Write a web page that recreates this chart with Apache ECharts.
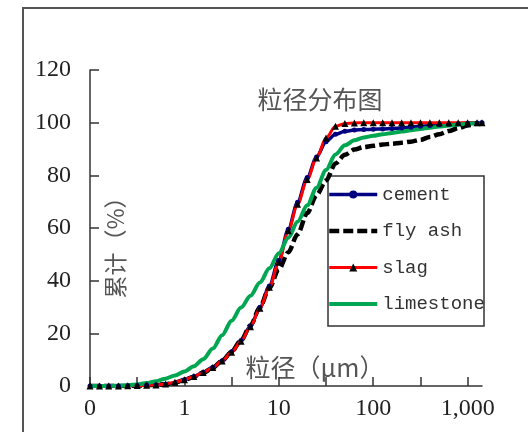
<!DOCTYPE html>
<html><head><meta charset="utf-8">
<script src="https://cdn.jsdelivr.net/npm/echarts@6/dist/echarts.min.js"></script>
<style>html,body{margin:0;padding:0;background:#fff}#c{width:528px;height:432px}</style>
</head><body><div id="c"></div>
<script>
// particle size (µm)
const sizes = [0.1,0.126,0.158,0.2,0.251,0.316,0.398,0.501,0.631,0.794,1,1.26,1.58,2,2.51,3.16,3.98,5.01,6.31,7.94,10,12.6,15.8,20,25.1,31.6,39.8,50.1,63.1,79.4,100,126,158,200,251,316,398,501,631,794,1000,1259,1420];
// cumulative (%)
const cement = [0,0,0,0,0.05,0.2,0.35,0.4,0.7,1.1,2.4,3.6,5.2,7.1,9.6,13.0,17.3,22.8,29.8,38.0,47.8,59.5,69.8,79.2,87.0,92.8,95.6,96.7,97.2,97.4,97.5,97.6,97.8,98.0,98.3,98.6,98.9,99.2,99.4,99.6,99.8,99.9,100];
const flyAsh = [0,0,0,0,0.05,0.15,0.3,0.4,0.7,1.3,2.3,3.5,5.0,6.9,9.6,13.0,17.4,23.0,30.0,37.2,44.3,50.8,57.6,65.7,72.5,78.0,84.5,87.8,89.8,90.7,91.2,91.7,92.0,92.4,92.8,93.5,94.6,95.6,96.8,97.9,98.9,99.6,100];
const slag = [0,0,0,0,0.05,0.15,0.3,0.4,0.8,1.4,2.4,3.6,5.1,7.0,9.5,12.8,17.0,22.5,29.5,37.5,47.0,59.0,69.0,78.4,86.6,94.2,98.6,99.7,99.9,100,100,100,100,100,100,100,100,100,100,100,100,100,100];
const limestone = [0,0,0,0.1,0.3,0.6,1.1,1.8,2.8,4.0,5.5,7.5,10.2,14.2,19.3,24.8,29.8,34.3,39.3,44.7,50.4,56.3,62.4,68.6,75.3,82.0,87.9,91.4,93.3,94.4,95.0,95.6,96.1,96.6,97.1,97.6,98.1,98.5,98.9,99.3,99.6,99.8,100];
const seriesNames = ['cement','fly ash','slag','limestone'];
const xTickLabels = ['0','1','10','100','1,000'];   // decades 0.1 .. 1000
const xTickDecades = [-1,0,1,2,3];
const xMinorTicks = [-1,-0.5,0,0.5,1,1.5,2,2.5,3];
const titleText = '粒径分布图';
const xName = '粒径（μm）';
const yName = '累计（%）';

const toPts = arr => sizes.map((s,i)=>[Math.log10(s), arr[i]]);
const chart = echarts.init(document.getElementById('c'), null, {renderer:'canvas'});
const serif = '"Liberation Serif", "DejaVu Serif", serif';
const cjk = '"Noto Sans CJK SC", sans-serif';
chart.setOption({
  animation:false,
  backgroundColor:'#fff',
  title:{text:titleText,left:320,top:87,textAlign:'center',padding:0,
    textStyle:{fontFamily:cjk,fontSize:25,fontWeight:'normal',color:'#555'}},
  grid:{left:90,right:46,top:70,bottom:46,containLabel:false},
  xAxis:{type:'value',min:-1,max:3.152,
    axisLine:{onZero:false,lineStyle:{color:'#333',width:1.5}},
    axisTick:{inside:true,length:9,customValues:xMinorTicks,lineStyle:{color:'#333',width:1.5}},
    axisLabel:{customValues:xTickDecades,margin:11,fontFamily:serif,fontSize:24,color:'#222',
      formatter:v=>{const k=Math.round(v);return Math.abs(v-k)<1e-6?(xTickLabels[k+1]||''):'';}},
    splitLine:{show:false}},
  yAxis:{type:'value',min:0,max:120,interval:20,
    axisLine:{show:true,onZero:false,lineStyle:{color:'#333',width:1.5}},
    axisTick:{show:true,inside:true,length:9,lineStyle:{color:'#333',width:1.5}},
    axisLabel:{margin:19,fontFamily:serif,fontSize:24,color:'#222'},
    splitLine:{show:false}},
  legend:{orient:'vertical',left:327,top:185,itemWidth:48,itemHeight:10,itemGap:17.5,padding:0,
    data:[
      {name:seriesNames[0]},
      {name:seriesNames[1],itemStyle:{opacity:0}},
      {name:seriesNames[2]},
      {name:seriesNames[3],itemStyle:{opacity:0}}
    ],
    lineStyle:{width:'inherit'},
    textStyle:{fontFamily:'"Liberation Mono", monospace',fontSize:19,color:'#333'}},
  series:[
    {name:seriesNames[0],type:'line',data:toPts(cement),symbol:'circle',symbolSize:5,
      smooth:0.3,smoothMonotone:'x',
      lineStyle:{color:'#000080',width:3.5},itemStyle:{color:'#000080'}},
    {name:seriesNames[1],type:'line',data:toPts(flyAsh),symbol:'none',
      smooth:0.3,smoothMonotone:'x',
      lineStyle:{color:'#000',width:4.5,type:[10,4]},itemStyle:{color:'#000'}},
    {name:seriesNames[2],type:'line',data:toPts(slag),symbol:'triangle',symbolSize:7,
      smooth:0.3,smoothMonotone:'x',
      lineStyle:{color:'#ff0000',width:3},itemStyle:{color:'#000'}},
    {name:seriesNames[3],type:'line',data:toPts(limestone),symbol:'none',
      smooth:0.3,smoothMonotone:'x',
      lineStyle:{color:'#00a651',width:4},itemStyle:{color:'#00a651'}}
  ],
  graphic:[
    {type:'rect',shape:{x:23,y:8,width:700,height:600},style:{fill:'none',stroke:'#555',lineWidth:2},silent:true},
    {type:'rect',shape:{x:328,y:176,width:156,height:150},style:{fill:'none',stroke:'#333',lineWidth:1.5},silent:true},
    {type:'text',x:315,y:367,style:{text:xName,align:'center',verticalAlign:'middle',
      font:'25px "Noto Sans CJK SC", sans-serif',fill:'#555'}},
    {type:'text',x:115,y:242,rotation:Math.PI/2,style:{text:yName,align:'center',verticalAlign:'middle',
      font:'23px "Noto Sans CJK SC", sans-serif',fill:'#555'}}
  ]
});
</script></body></html>
